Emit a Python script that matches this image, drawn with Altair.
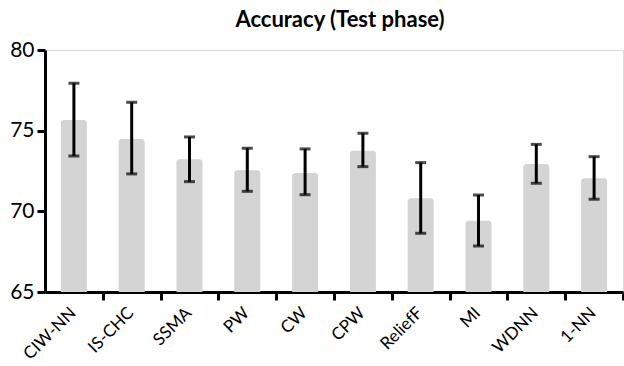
import altair as alt
import pandas as pd

methods = ["CIW-NN", "IS-CHC", "SSMA", "PW", "CW", "CPW", "ReliefF", "MI", "WDNN", "1-NN"]
accuracy = [75.66, 74.49, 73.23, 72.54, 72.38, 73.76, 70.81, 69.42, 72.94, 72.05]
err_low = [73.43, 72.32, 71.84, 71.24, 71.03, 72.77, 68.64, 67.85, 71.74, 70.75]
err_high = [77.94, 76.76, 74.61, 73.91, 73.87, 74.84, 73.02, 71.01, 74.15, 73.39]

df = pd.DataFrame({"method": methods, "acc": accuracy, "lo": err_low, "hi": err_high})

FONT = "Lato"

x = alt.X("method:N", sort=methods, title=None,
          scale=alt.Scale(paddingInner=0.55, paddingOuter=0.275),
          axis=alt.Axis(labelAngle=-45, labelFontSize=17, labelFont=FONT, labelColor="black",
                        labelAlign="right", labelBaseline="middle", labelPadding=10,
                        tickOffset=28.9, tickSize=8, tickWidth=3, tickColor="black",
                        domainColor="black", domainWidth=3, labelOffset=-30))
y_scale = alt.Scale(domain=[65, 80], nice=False, zero=False)

bars = alt.Chart(df).mark_bar(color="#d4d4d4", cornerRadiusTopLeft=3, cornerRadiusTopRight=3).encode(
    x=x,
    y=alt.Y("acc:Q", scale=y_scale, title=None,
            axis=alt.Axis(values=[65, 70, 75, 80], labelFontSize=21, labelFont=FONT, labelColor="black",
                          tickSize=8, tickWidth=3, tickColor="black", domainColor="black",
                          domainWidth=3, grid=False, labelPadding=3)),
    y2=alt.datum(65),
)

rules = alt.Chart(df).mark_rule(color="black", strokeWidth=3).encode(
    x=alt.X("method:N", sort=methods),
    y="lo:Q",
    y2="hi:Q",
)
caps_hi = alt.Chart(df).mark_tick(color="black", thickness=3, size=11, orient="horizontal").encode(
    x=alt.X("method:N", sort=methods), y="hi:Q")
caps_lo = alt.Chart(df).mark_tick(color="black", thickness=3, size=11, orient="horizontal").encode(
    x=alt.X("method:N", sort=methods), y="lo:Q")

chart = alt.layer(bars, rules, caps_hi, caps_lo).properties(
    width=578, height=242,
    title=alt.TitleParams("Accuracy (Test phase)", fontSize=22, font=FONT, fontWeight="bold",
                          anchor="middle", offset=7, dx=6, color="black"),
    autosize=alt.AutoSizeParams(type="none"),
    padding={"left": 45, "top": 50, "right": 1, "bottom": 74},
).configure_view(stroke=None).configure(background="white")

chart.save("out.html", embed_options={"renderer": "svg", "actions": False})
